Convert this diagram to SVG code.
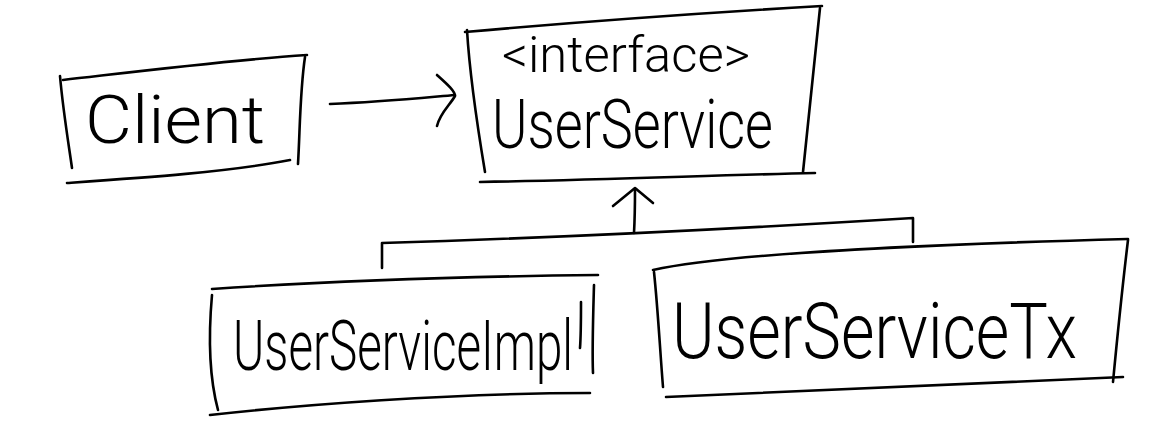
<svg xmlns="http://www.w3.org/2000/svg" width="1156" height="421" viewBox="0 0 1156 421">
  <style>
    .ink { fill: none; stroke: #000; stroke-width: 2.6; stroke-linecap: round; stroke-linejoin: round; }
    .hand { font-family: Roboto, "Open Sans", "Liberation Sans", sans-serif; font-weight: 300; fill: #000; }
  </style>
  <rect width="1156" height="421" fill="#fff"/>

  <g id="client">
    <path class="ink" d="M63,80 C150,70 230,60 307,55"/>
    <path class="ink" d="M60,76 C63,110 68,140 72,168"/>
    <path class="ink" d="M305,57 C300,90 300,130 298,164"/>
    <path class="ink" d="M67,183 C140,178 230,172 290,160"/>
    <text class="hand" x="85" y="143" font-size="66" textLength="180" lengthAdjust="spacingAndGlyphs">Client</text>
  </g>

  <g id="userservice">
    <path class="ink" d="M465,32 C600,20 720,12 822,6"/>
    <path class="ink" d="M467,30 C470,80 478,130 485,172"/>
    <path class="ink" d="M820,8 C815,60 808,120 803,172"/>
    <path class="ink" d="M480,182 C600,180 720,175 815,173"/>
    <text class="hand" x="502" y="72" font-size="50" textLength="248" lengthAdjust="spacingAndGlyphs">&lt;interface&gt;</text>
    <text class="hand" x="492" y="148" font-size="68" textLength="281" lengthAdjust="spacingAndGlyphs">UserService</text>
  </g>

  <g id="userserviceimpl">
    <path class="ink" d="M212,289 C300,283 420,277 598,275"/>
    <path class="ink" d="M212,295 C208,340 210,380 218,410"/>
    <path class="ink" d="M594,285 C593,320 592,350 593,373"/>
    <path class="ink" d="M210,415 C300,405 450,393 590,393"/>
    <path class="ink" d="M581,302 C581,320 581,335 580,348"/>
    <!-- narrow, tall lettering: small font stretched vertically -->
    <text class="hand" transform="translate(233,370) scale(1,1.49)" x="0" y="0" font-size="47" textLength="340" lengthAdjust="spacingAndGlyphs">UserServiceImpl</text>
  </g>

  <g id="userservicetx">
    <path class="ink" d="M653,270 C720,255 900,245 1128,239"/>
    <path class="ink" d="M654,272 C658,310 660,350 663,387"/>
    <path class="ink" d="M1128,240 C1122,290 1117,340 1113,382"/>
    <path class="ink" d="M666,397 C800,390 950,385 1123,377"/>
    <text class="hand" transform="translate(672,358) scale(1,1.23)" x="0" y="0" font-size="63.5" textLength="405" lengthAdjust="spacingAndGlyphs">UserServiceTx</text>
  </g>

  <g id="connectors">
    <!-- Client uses UserService -->
    <path class="ink" d="M330,104 C380,102 420,98 455,95"/>
    <path class="ink" d="M437,75 C447,84 455,91 455,96 C450,105 440,113 437,126"/>
    <!-- implementations realise UserService -->
    <path class="ink" d="M634,233 C635,215 635,200 635,189"/>
    <path class="ink" d="M613,206 L635,188 L653,203"/>
    <path class="ink" d="M382,268 L382,243 C550,238 750,228 913,218 L913,242"/>
  </g>
</svg>
